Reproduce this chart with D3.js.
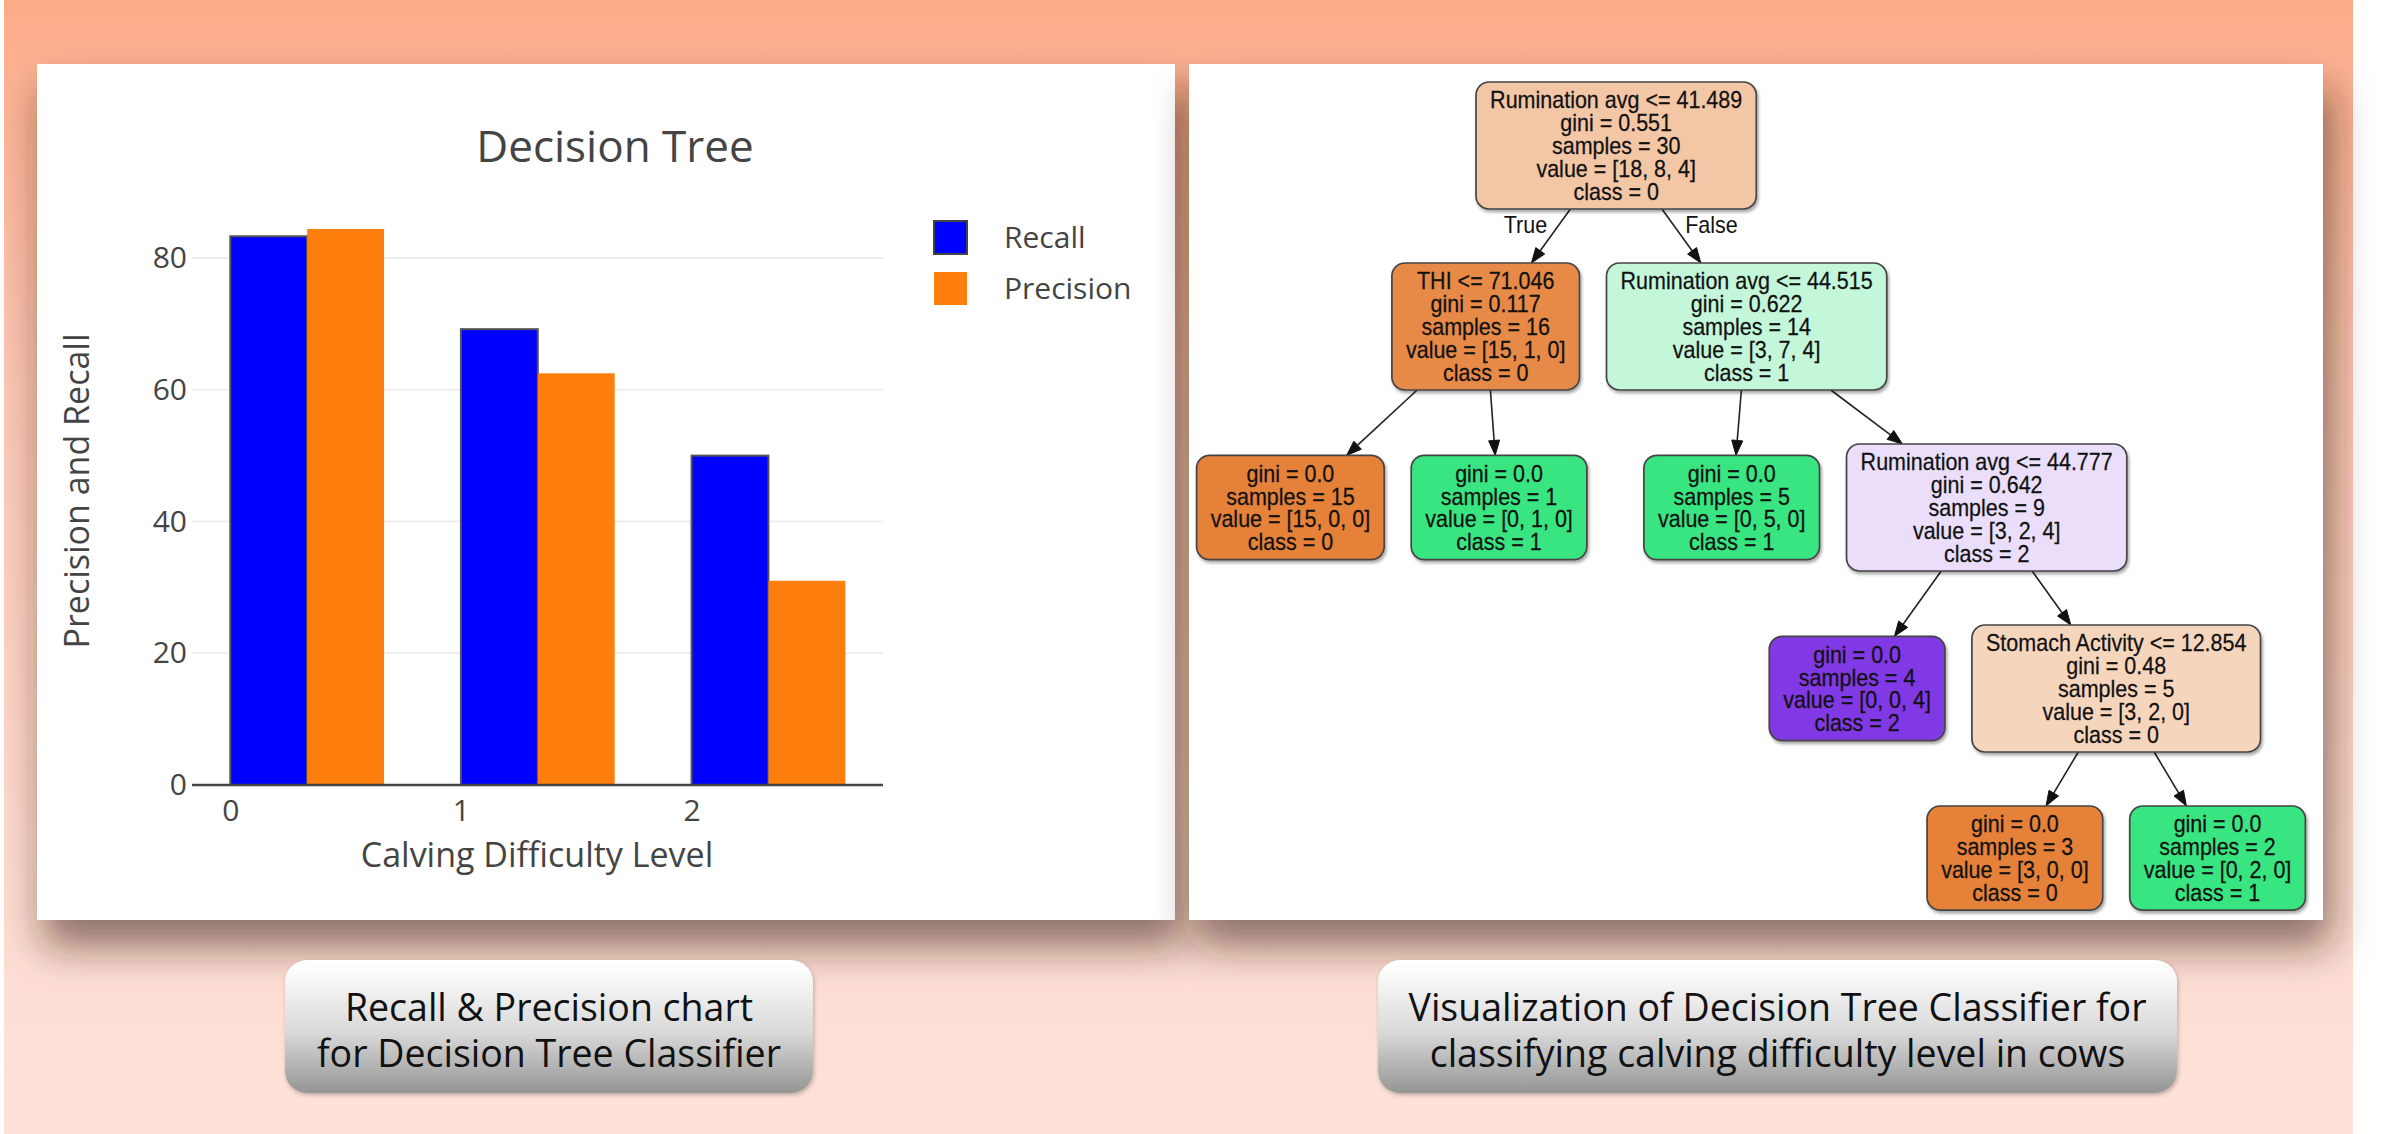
<!DOCTYPE html>
<html><head><meta charset="utf-8">
<script src="https://cdn.jsdelivr.net/npm/d3@7"></script>
<style>html,body{margin:0;padding:0;background:#fff;overflow:hidden}</style>
</head><body><svg id="c" width="2400" height="1134"></svg>
<script>
// ---------------- chart data ----------------
const categories = [0, 1, 2];
const seriesNames = ["Recall", "Precision"];
const recallValues = [83.3, 69.2, 50.0];
const precisionValues = [84.4, 62.5, 31.0];
const yTickValues = [0, 20, 40, 60, 80];
const chartTitle = "Decision Tree";
const xAxisTitle = "Calving Difficulty Level";
const yAxisTitle = "Precision and Recall";

// ---------------- tree data ----------------
const nodeIds     = ["n0","n1","n2","n3","n4","n5","n6","n7","n8","n9","n10"];
const nodeParents = [null,"n0","n0","n1","n1","n2","n2","n6","n6","n8","n8"];
const nodeSplits  = ["Rumination avg <= 41.489","THI <= 71.046","Rumination avg <= 44.515",null,null,null,"Rumination avg <= 44.777",null,"Stomach Activity <= 12.854",null,null];
const nodeGini    = ["0.551","0.117","0.622","0.0","0.0","0.0","0.642","0.0","0.48","0.0","0.0"];
const nodeSamples = [30,16,14,15,1,5,9,4,5,3,2];
const nodeValues  = [[18,8,4],[15,1,0],[3,7,4],[15,0,0],[0,1,0],[0,5,0],[3,2,4],[0,0,4],[3,2,0],[3,0,0],[0,2,0]];
const nodeClasses = [0,0,1,0,1,1,2,2,0,0,1];
const edgeLabels  = ["True","False"];

// ---------------- captions ----------------
const captionLeft  = ["Recall & Precision chart","for Decision Tree Classifier"];
const captionRight = ["Visualization of Decision Tree Classifier for","classifying calving difficulty level in cows"];

// ---------------- styles ----------------
const seriesColors = {Recall:"#0000ff", Precision:"#ff7f0e"};
const classColors = ["#e58139","#39e581","#8139e5"];
const svg = d3.select("#c");
const defs = svg.append("defs");

const bg = defs.append("linearGradient").attr("id","bgGrad").attr("x1",0).attr("y1",0).attr("x2",0).attr("y2",1);
[[0,"#fcab87"],[0.05,"#fcb090"],[0.35,"#fbc7b5"],[0.8,"#fddcd1"],[1,"#fee2d9"]].forEach(s=>bg.append("stop").attr("offset",s[0]).attr("stop-color",s[1]));
const cg = defs.append("linearGradient").attr("id","capGrad").attr("x1",0).attr("y1",0).attr("x2",0).attr("y2",1);
[[0,"#ffffff"],[0.15,"#f7f7f7"],[0.55,"#d8d8d8"],[1,"#959595"]].forEach(s=>cg.append("stop").attr("offset",s[0]).attr("stop-color",s[1]));
defs.append("filter").attr("id","pshadow").attr("x","-10%").attr("y","-10%").attr("width","125%").attr("height","135%")
  .append("feDropShadow").attr("dx",7).attr("dy",26).attr("stdDeviation",20).attr("flood-color","#3a1c10").attr("flood-opacity",0.58);
defs.append("filter").attr("id","nshadow").attr("x","-10%").attr("y","-10%").attr("width","125%").attr("height","130%")
  .append("feDropShadow").attr("dx",1.5).attr("dy",2.5).attr("stdDeviation",1.5).attr("flood-color","#000").attr("flood-opacity",0.35);
defs.append("filter").attr("id","cshadow").attr("x","-10%").attr("y","-10%").attr("width","120%").attr("height","130%")
  .append("feDropShadow").attr("dx",1).attr("dy",2).attr("stdDeviation",2).attr("flood-color","#000").attr("flood-opacity",0.25);

svg.append("rect").attr("x",0).attr("y",0).attr("width",2400).attr("height",1134).attr("fill","#ffffff");
svg.append("rect").attr("x",4).attr("y",0).attr("width",2349).attr("height",1134).attr("fill","url(#bgGrad)");

const leftPanel = {x:37, y:64, w:1138, h:856};
const rightPanel = {x:1189, y:64, w:1134, h:856};
[leftPanel, rightPanel].forEach(p=>{
  svg.append("rect").attr("x",p.x).attr("y",p.y).attr("width",p.w).attr("height",p.h).attr("fill","#fff").attr("filter","url(#pshadow)");
});

// ================= LEFT: bar chart =================
const plotL = 192, plotR = 883;
const x = d3.scaleLinear().domain([-0.166, 2.83]).range([plotL, plotR]);
const y = d3.scaleLinear().domain([0, 80]).range([785, 258]);
const sub = d3.scaleBand().domain(seriesNames).range([0, 2/3]);
const chart = svg.append("g");

chart.selectAll("line.grid").data(yTickValues.filter(v=>v>0)).join("line")
  .attr("x1",plotL).attr("x2",plotR).attr("y1",d=>y(d)).attr("y2",d=>y(d))
  .attr("stroke","#eeeeee").attr("stroke-width",2);

const barData = [];
categories.forEach((c,i)=>{
  barData.push({cat:c, s:"Recall", v:recallValues[i]});
  barData.push({cat:c, s:"Precision", v:precisionValues[i]});
});
chart.selectAll("rect.bar").data(barData).join("rect")
  .attr("x",d=>x(d.cat+sub(d.s)))
  .attr("width",d=>x(d.cat+sub(d.s)+sub.bandwidth())-x(d.cat+sub(d.s)))
  .attr("y",d=>y(d.v)).attr("height",d=>y(0)-y(d.v))
  .attr("fill",d=>seriesColors[d.s])
  .attr("stroke",d=>d.s==="Recall"?"#555":"none").attr("stroke-width",2);

chart.append("line").attr("x1",plotL).attr("x2",plotR).attr("y1",y(0)).attr("y2",y(0)).attr("stroke","#444").attr("stroke-width",2.5);

const gy = chart.append("g").attr("transform",`translate(${plotL},0)`)
  .call(d3.axisLeft(y).tickValues(yTickValues).tickSize(0).tickPadding(5));
gy.select(".domain").remove();
gy.selectAll("text").attr("font-family","Open Sans").attr("font-size",30).attr("fill","#444");

const gx = chart.append("g").attr("transform",`translate(0,${y(0)})`)
  .call(d3.axisBottom(x).tickValues(categories).tickFormat(d3.format("d")).tickSize(0).tickPadding(15));
gx.select(".domain").remove();
gx.selectAll("text").attr("font-family","Open Sans").attr("font-size",30).attr("fill","#444");

chart.append("text").attr("x",615).attr("y",162).attr("text-anchor","middle")
  .attr("font-family","Open Sans").attr("font-size",44).attr("fill","#444").text(chartTitle);
chart.append("text").attr("x",537).attr("y",867).attr("text-anchor","middle")
  .attr("font-family","Open Sans").attr("font-size",34).attr("fill","#444").text(xAxisTitle);
chart.append("text").attr("transform","translate(89,491) rotate(-90)").attr("text-anchor","middle")
  .attr("font-family","Open Sans").attr("font-size",34).attr("fill","#444").text(yAxisTitle);

const legY = d3.scaleBand().domain(seriesNames).range([221, 323]);
const leg = chart.append("g");
seriesNames.forEach(s=>{
  leg.append("rect").attr("x",934).attr("y",legY(s)).attr("width",33).attr("height",33)
    .attr("fill",seriesColors[s]).attr("stroke",s==="Recall"?"#444":"none").attr("stroke-width",2);
  leg.append("text").attr("x",1004).attr("y",legY(s)+16.5).attr("dy","0.35em")
    .attr("font-family","Open Sans").attr("font-size",30).attr("fill","#444").text(s);
});

// ================= RIGHT: decision tree =================
const FS = 23, SX = 0.935, LH = 22.8, PADX = 14, PADY = 13, SIB = 27, COUSIN = 57, RANKSEP = 54;
const TF = "Liberation Sans, Arial, sans-serif";
const nodes = nodeIds.map((id,i)=>({id, parent:nodeParents[i], i}));
const root = d3.stratify().id(d=>d.id).parentId(d=>d.parent)(nodes);
const measure = svg.append("text").attr("font-family",TF).attr("font-size",FS).attr("visibility","hidden");
root.each(n=>{
  const i = n.data.i;
  const lines = [];
  if (nodeSplits[i]) lines.push(nodeSplits[i]);
  lines.push("gini = "+nodeGini[i]);
  lines.push("samples = "+nodeSamples[i]);
  lines.push("value = ["+nodeValues[i].join(", ")+"]");
  lines.push("class = "+nodeClasses[i]);
  n.lines = lines;
  let mw = 0;
  lines.forEach(l=>{ measure.text(l); mw = Math.max(mw, measure.node().getComputedTextLength()*SX); });
  n.w = mw + 2*PADX;
  n.h = lines.length*LH + PADY;
  const v = nodeValues[i], tot = d3.sum(v);
  const p = v.map(a=>a/tot).sort((a,b)=>b-a);
  const alpha = p[0]===1 ? 1 : (p[0]-p[1])/(1-p[1]);
  const c = d3.rgb(classColors[nodeClasses[i]]);
  n.fill = d3.rgb(Math.round(alpha*c.r+(1-alpha)*255), Math.round(alpha*c.g+(1-alpha)*255), Math.round(alpha*c.b+(1-alpha)*255)).formatHex();
});
measure.remove();

root.x = 0;
(function place(n){
  if (!n.children) return;
  const cs = n.children, pos=[0];
  for (let k=1;k<cs.length;k++) pos[k]=pos[k-1]+cs[k-1].w/2+SIB+cs[k].w/2;
  const mid=(pos[0]+pos[cs.length-1])/2;
  cs.forEach((c,k)=>{ c.x = n.x + pos[k]-mid; place(c); });
})(root);
function shiftSub(n,dx){ n.descendants().forEach(d=>d.x+=dx); }
function groupW(g){ return d3.sum(g,d=>d.w)+SIB*(g.length-1); }
for (let d=1; d<=root.height; d++){
  const row = root.descendants().filter(n=>n.depth===d).sort((a,b)=>a.x-b.x);
  for (let k=1;k<row.length;k++){
    const a=row[k-1], b=row[k];
    if (a.parent===b.parent) continue;
    const need = (a.x+a.w/2+COUSIN)-(b.x-b.w/2);
    if (need>0){
      const wa=groupW(a.parent.children), wb=groupW(b.parent.children);
      const l = need*wa/(wa+wb), r = need-l;
      row.slice(0,k).forEach(n=>shiftSub(n,-l));
      row.slice(k).forEach(n=>shiftSub(n,r));
    }
  }
}
const rankH = d3.range(root.height+1).map(d=>d3.max(root.descendants().filter(n=>n.depth===d),n=>n.h));
const rankTop=[82];
for (let d=1; d<rankH.length; d++) rankTop[d]=rankTop[d-1]+rankH[d-1]+RANKSEP;
root.each(n=>{ n.y = rankTop[n.depth]+rankH[n.depth]/2; });
const minX = d3.min(root.descendants(),n=>n.x-n.w/2), maxX = d3.max(root.descendants(),n=>n.x+n.w/2);
const offX = rightPanel.x + rightPanel.w/2 - (minX+maxX)/2 - 5;
root.each(n=>{ n.x += offX; });

const tree = svg.append("g");
const AL=15, AW=5.5;
root.links().forEach(lk=>{
  const p=lk.source, c=lk.target;
  const ys=p.y+p.h/2, ye=c.y-c.h/2;
  const xAt = yy => p.x+(c.x-p.x)*(yy-p.y)/(c.y-p.y);
  const xs=xAt(ys), xe=xAt(ye);
  const L=Math.hypot(xe-xs,ye-ys), ux=(xe-xs)/L, uy=(ye-ys)/L;
  const bx=xe-ux*AL, by=ye-uy*AL;
  tree.append("line").attr("x1",xs).attr("y1",ys).attr("x2",bx).attr("y2",by).attr("stroke","#222").attr("stroke-width",1.6);
  tree.append("path").attr("d",`M${xe},${ye}L${bx-uy*AW},${by+ux*AW}L${bx+uy*AW},${by-ux*AW}Z`).attr("fill","#111").attr("stroke","#111").attr("stroke-width",1);
  if (p===root){
    const k = root.children.indexOf(c);
    const ly = ys+24;
    const lx = xAt(ly-7)+(k===0?-11:11);
    tree.append("text").attr("transform",`translate(${lx},${ly}) scale(${SX},1)`)
      .attr("text-anchor",k===0?"end":"start")
      .attr("font-family",TF).attr("font-size",FS).attr("fill","#111")
      .text(edgeLabels[k]);
  }
});
root.descendants().forEach(n=>{
  const g = tree.append("g");
  g.append("rect").attr("x",n.x-n.w/2).attr("y",n.y-n.h/2).attr("width",n.w).attr("height",n.h)
    .attr("rx",13).attr("ry",13).attr("fill",n.fill).attr("stroke","#454545").attr("stroke-width",1.7)
    .attr("filter","url(#nshadow)");
  n.lines.forEach((l,k)=>{
    g.append("text").attr("transform",`translate(${n.x},${n.y+(k-(n.lines.length-1)/2)*LH+8.5}) scale(${SX},1)`)
      .attr("text-anchor","middle").attr("font-family",TF)
      .attr("font-size",FS).attr("fill","#111").attr("stroke","#111").attr("stroke-width",0.25).text(l);
  });
});

// ================= captions =================
const caps = [
  {x:285, y:960, w:528, h:133, lines:captionLeft},
  {x:1378, y:960, w:799, h:133, lines:captionRight}
];
caps.forEach(cp=>{
  svg.append("rect").attr("x",cp.x).attr("y",cp.y).attr("width",cp.w).attr("height",cp.h)
    .attr("rx",22).attr("ry",22).attr("fill","url(#capGrad)").attr("filter","url(#cshadow)");
  cp.lines.forEach((l,k)=>{
    svg.append("text").attr("x",cp.x+cp.w/2).attr("y",1021+k*46).attr("text-anchor","middle")
      .attr("font-family","Open Sans").attr("font-size",37.5).attr("fill","#111").text(l);
  });
});
</script>
</body></html>
